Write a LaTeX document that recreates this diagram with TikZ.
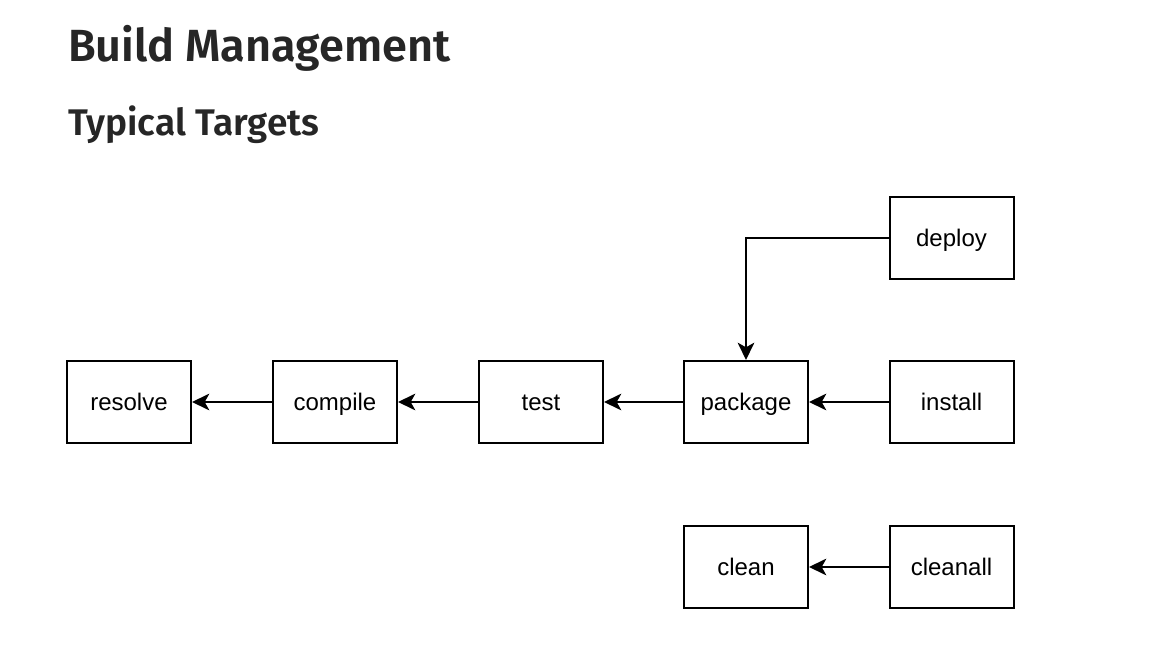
\documentclass[tikz,border=0pt]{standalone}
\usepackage{fontspec}
\setmainfont{Liberation Sans}
\newfontfamily\headfont{Fira Sans SemiBold}
\usetikzlibrary{arrows.meta, positioning}
\definecolor{headc}{HTML}{262626}

\begin{document}
\begin{tikzpicture}[x=0.75pt, y=-0.75pt,
      >={Stealth[length=13pt, width=12.5pt, inset=3.5pt]},
      line width=1.5pt,
      target/.style={draw, rectangle, minimum width=93pt, minimum height=61.5pt,
        inner sep=0pt, text height=12.6pt, text depth=0pt,
        font=\fontsize{18}{20}\selectfont}]
    \useasboundingbox (0,0) rectangle (1172,656);
    % headings
    \node[anchor=base west, inner sep=0pt, headc,
          font=\headfont\fontsize{33.8}{36}\selectfont] (title) at (67,62)
          {Build Management};
    \node[anchor=base west, inner sep=0pt, headc,
          font=\headfont\fontsize{27.8}{30}\selectfont] (subtitle) at (67,136)
          {Typical Targets};
    % targets
    \foreach \n/\x/\y in {resolve/129/402, compile/335/402, test/541/402,
        package/746/402, install/951.5/402, deploy/951.5/238,
        clean/746/567, cleanall/951.5/567}{
      \node[target] (\n) at (\x,\y) {\n};
    }
    % dependencies
    \draw[->] (compile) -- (resolve);
    \draw[->] (test) -- (compile);
    \draw[->] (package) -- (test);
    \draw[->] (install) -- (package);
    \draw[->] (deploy.west) -| (package.north);
    \draw[->] (cleanall) -- (clean);
  \end{tikzpicture}
\end{document}
